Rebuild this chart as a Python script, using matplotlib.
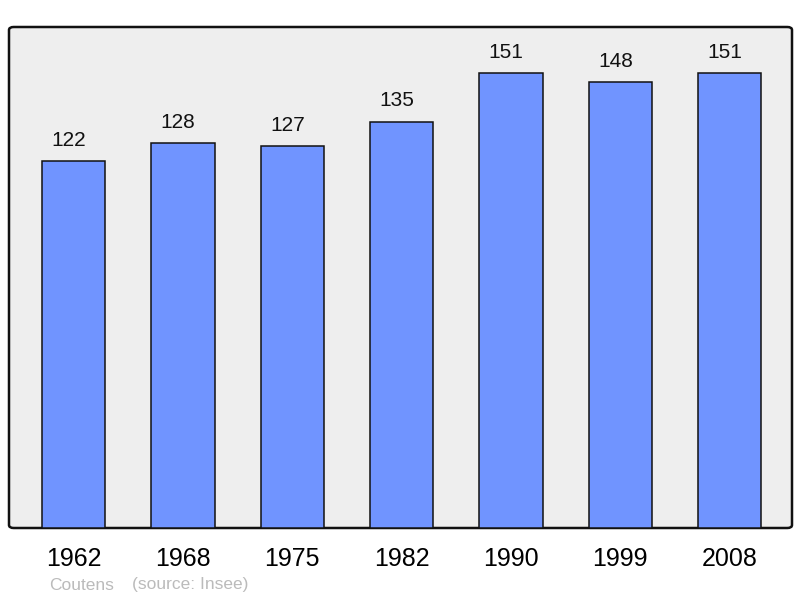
import matplotlib.pyplot as plt
from matplotlib.patches import FancyBboxPatch

plt.rcParams['font.family'] = ['Liberation Sans', 'DejaVu Sans']

years = ['1962', '1968', '1975', '1982', '1990', '1999', '2008']
population = [122, 128, 127, 135, 151, 148, 151]

fig = plt.figure(figsize=(8, 5.98), dpi=100)
# axes box in pixels: left 9, right 792, top 27, bottom 528
ax = fig.add_axes([9 / 800, 1 - 528 / 598, 783 / 800, 501 / 598])
ax.set_facecolor('none')
for s in ax.spines.values():
    s.set_visible(False)

# rounded background frame
bg = FancyBboxPatch((0, 0), 1, 1, boxstyle='round,pad=0,rounding_size=0.006',
                    transform=ax.transAxes, facecolor='#eeeeee',
                    edgecolor='#111111', linewidth=1.8, zorder=0, clip_on=False)
ax.add_patch(bg)

x = range(len(years))
bars = ax.bar(x, population, width=0.58, color='#7094ff',
              edgecolor='#111111', linewidth=1.1, zorder=2)
for xi, v in zip(x, population):
    ax.annotate(str(v), (xi, v), xytext=(-3.5, 8), textcoords='offset points',
                ha='center', va='bottom', fontsize=15, color='#111111')

ax.set_xlim(-0.59, 6.57)
ax.set_ylim(0, 166.4)
ax.set_yticks([])
ax.set_xticks(list(x))
ax.set_xticklabels(years, fontsize=18)
ax.tick_params(axis='x', length=0, pad=13.5)

fig.text(49 / 800, 1 - 585 / 598, 'Coutens', fontsize=12.5, color='#bbbbbb',
         va='center', ha='left')
fig.text(132 / 800, 1 - 585 / 598, '(source: Insee)', fontsize=12.5,
         color='#bbbbbb', va='center', ha='left')

fig.savefig('out.png', dpi=100)
